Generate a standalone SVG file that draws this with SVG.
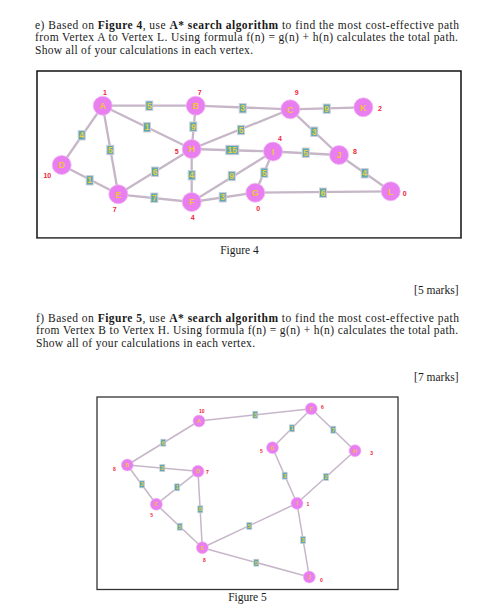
<svg xmlns="http://www.w3.org/2000/svg" width="501" height="609" viewBox="0 0 501 609">
<style>
.t{font-family:"Liberation Serif","Times New Roman",serif;font-size:11.5px;fill:#1a1a1a}
.b{font-weight:bold}
.e4{stroke:#c6b6c8;stroke-width:2.3;fill:none}
.e5{stroke:#c6b6c8;stroke-width:1.5;fill:none}
.n4{fill:#e87ef0;stroke:#f0b8f4;stroke-width:0.8}
.n5{fill:#e87ef0;stroke:#f0b8f4;stroke-width:0.6}
.nl4{font-family:"Liberation Sans",Arial,sans-serif;font-size:9px;font-weight:bold;fill:#f2c43a;text-anchor:middle}
.nl5{font-family:"Liberation Sans",Arial,sans-serif;font-size:5.5px;font-weight:bold;fill:#f2c43a;text-anchor:middle}
.h4{font-family:"Liberation Sans",Arial,sans-serif;font-size:7px;font-weight:bold;fill:#f0243a;text-anchor:middle}
.h5{font-family:"Liberation Sans",Arial,sans-serif;font-size:5px;font-weight:bold;fill:#f0243a;text-anchor:middle}
.lb4{fill:#5fa6ae;stroke:#cfcfdc;stroke-width:1}
.lb5{fill:#5fa6ae;stroke:#cfcfdc;stroke-width:0.7}
.lt4{font-family:"Liberation Sans",Arial,sans-serif;font-size:8.5px;font-weight:bold;fill:#e8d040;text-anchor:middle}
.lt5{font-family:"Liberation Sans",Arial,sans-serif;font-size:5.5px;font-weight:bold;fill:#e8d040;text-anchor:middle}
</style>
<rect width="501" height="609" fill="#ffffff"/>

<g id="question-e">
<text class="t" x="35" y="28.5" textLength="424">e) Based on <tspan class="b">Figure 4</tspan>, use <tspan class="b">A* search algorithm</tspan> to find the most cost-effective path</text>
<text class="t" x="35" y="41" textLength="423">from Vertex A to Vertex L. Using formula f(n) = g(n) + h(n) calculates the total path.</text>
<text class="t" x="35" y="53.5" textLength="218">Show all of your calculations in each vertex.</text>
</g>

<rect x="37" y="71" width="424" height="167" fill="none" stroke="#111" stroke-width="1.5"/>
<line x1="37" y1="238.5" x2="462" y2="238.5" stroke="#777" stroke-width="1"/>

<g id="fig4-connectors">
<line class="e4" x1="102.7" y1="105.7" x2="195.7" y2="105.7"/>
<line class="e4" x1="195.7" y1="105.7" x2="290.3" y2="109.3"/>
<line class="e4" x1="290.3" y1="109.3" x2="363.3" y2="107.3"/>
<line class="e4" x1="102.7" y1="105.7" x2="191.7" y2="149"/>
<line class="e4" x1="195.7" y1="105.7" x2="191.7" y2="149"/>
<line class="e4" x1="191.7" y1="149" x2="290.3" y2="109.3"/>
<line class="e4" x1="102.7" y1="105.7" x2="61.7" y2="165"/>
<line class="e4" x1="102.7" y1="105.7" x2="118.3" y2="194.3"/>
<line class="e4" x1="191.7" y1="149" x2="273" y2="151.5"/>
<line class="e4" x1="290.3" y1="109.3" x2="339" y2="155"/>
<line class="e4" x1="273" y1="151.5" x2="339" y2="155"/>
<line class="e4" x1="61.7" y1="165" x2="118.3" y2="194.3"/>
<line class="e4" x1="118.3" y1="194.3" x2="191.7" y2="149"/>
<line class="e4" x1="191.7" y1="149" x2="191.7" y2="202"/>
<line class="e4" x1="118.3" y1="194.3" x2="191.7" y2="202"/>
<line class="e4" x1="191.7" y1="202" x2="273" y2="151.5"/>
<line class="e4" x1="191.7" y1="202" x2="255.3" y2="192.7"/>
<line class="e4" x1="273" y1="151.5" x2="255.3" y2="192.7"/>
<line class="e4" x1="339" y1="155" x2="390.7" y2="191.3"/>
<line class="e4" x1="255.3" y1="192.7" x2="390.7" y2="191.3"/>
<g id="fig4-edge-labels">
<rect class="lb4" x="145.8" y="101" width="7" height="9.4"/><text class="lt4" x="149.3" y="108.7">5</text>
<rect class="lb4" x="239.2" y="103.6" width="7" height="9.4"/><text class="lt4" x="242.7" y="111.3">3</text>
<rect class="lb4" x="323.2" y="104" width="7" height="9.4"/><text class="lt4" x="326.7" y="111.7">9</text>
<rect class="lb4" x="143.5" y="122.6" width="7" height="9.4"/><text class="lt4" x="147" y="130.3">1</text>
<rect class="lb4" x="189.8" y="122" width="7" height="9.4"/><text class="lt4" x="193.3" y="129.7">9</text>
<rect class="lb4" x="237.5" y="125.3" width="7" height="9.4"/><text class="lt4" x="241" y="133">5</text>
<rect class="lb4" x="78.2" y="130.6" width="7" height="9.4"/><text class="lt4" x="81.7" y="138.3">4</text>
<rect class="lb4" x="106.8" y="145.3" width="7" height="9.4"/><text class="lt4" x="110.3" y="153">5</text>
<rect class="lb4" x="225.8" y="145.3" width="13" height="9.4"/><text class="lt4" x="232.3" y="153">15</text>
<rect class="lb4" x="310.8" y="127" width="7" height="9.4"/><text class="lt4" x="314.3" y="134.7">3</text>
<rect class="lb4" x="302.2" y="148" width="7" height="9.4"/><text class="lt4" x="305.7" y="155.7">5</text>
<rect class="lb4" x="86.2" y="175.6" width="7" height="9.4"/><text class="lt4" x="89.7" y="183.3">1</text>
<rect class="lb4" x="151.5" y="167" width="7" height="9.4"/><text class="lt4" x="155" y="174.7">6</text>
<rect class="lb4" x="188.2" y="170.6" width="7" height="9.4"/><text class="lt4" x="191.7" y="178.3">4</text>
<rect class="lb4" x="150.8" y="193" width="7" height="9.4"/><text class="lt4" x="154.3" y="200.7">7</text>
<rect class="lb4" x="228.2" y="171.3" width="7" height="9.4"/><text class="lt4" x="231.7" y="179">9</text>
<rect class="lb4" x="219.2" y="192.6" width="7" height="9.4"/><text class="lt4" x="222.7" y="200.3">3</text>
<rect class="lb4" x="260.8" y="168" width="7" height="9.4"/><text class="lt4" x="264.3" y="175.7">5</text>
<rect class="lb4" x="361.2" y="168.6" width="7" height="9.4"/><text class="lt4" x="364.7" y="176.3">4</text>
<rect class="lb4" x="319.5" y="188" width="7" height="9.4"/><text class="lt4" x="323" y="195.7">6</text>
</g>
</g>

<g id="fig4-A"><circle class="n4" cx="102.7" cy="105.7" r="9.5"/><text class="nl4" x="102.7" y="108.9">A</text><text class="h4" x="105" y="95.2">1</text></g>
<g id="fig4-B"><circle class="n4" cx="195.7" cy="105.7" r="9.5"/><text class="nl4" x="195.7" y="108.9">B</text><text class="h4" x="199.7" y="94.5">7</text></g>
<g id="fig4-C"><circle class="n4" cx="290.3" cy="109.3" r="9.5"/><text class="nl4" x="290.3" y="112.5">C</text><text class="h4" x="296.7" y="95.2">9</text></g>
<g id="fig4-K"><circle class="n4" cx="363.3" cy="107.3" r="9.5"/><text class="nl4" x="363.3" y="110.5">K</text><text class="h4" x="380" y="111.2">2</text></g>
<g id="fig4-H"><circle class="n4" cx="191.7" cy="149" r="9.5"/><text class="nl4" x="191.7" y="152.2">H</text><text class="h4" x="176.7" y="153.5">5</text></g>
<g id="fig4-I"><circle class="n4" cx="273" cy="151.5" r="9.5"/><text class="nl4" x="273" y="154.7">I</text><text class="h4" x="280" y="140.8">4</text></g>
<g id="fig4-J"><circle class="n4" cx="339" cy="155" r="9.5"/><text class="nl4" x="339" y="158.2">J</text><text class="h4" x="355" y="153.5">8</text></g>
<g id="fig4-D"><circle class="n4" cx="61.7" cy="165" r="9.5"/><text class="nl4" x="61.7" y="168.2">D</text><text class="h4" x="47.3" y="177.5">10</text></g>
<g id="fig4-E"><circle class="n4" cx="118.3" cy="194.3" r="9.5"/><text class="nl4" x="118.3" y="197.5">E</text><text class="h4" x="114.7" y="211.8">7</text></g>
<g id="fig4-F"><circle class="n4" cx="191.7" cy="202" r="9.5"/><text class="nl4" x="191.7" y="205.2">F</text><text class="h4" x="192.7" y="220.2">4</text></g>
<g id="fig4-G"><circle class="n4" cx="255.3" cy="192.7" r="9.5"/><text class="nl4" x="255.3" y="195.9">G</text><text class="h4" x="258.3" y="210.8">0</text></g>
<g id="fig4-L"><circle class="n4" cx="390.7" cy="191.3" r="9.5"/><text class="nl4" x="390.7" y="194.5">L</text><text class="h4" x="404.7" y="195.8">0</text></g>

<text class="t" x="239.5" y="254" text-anchor="middle">Figure 4</text>
<text class="t" x="458.5" y="294" text-anchor="end">[5 marks]</text>

<g id="question-f">
<text class="t" x="36" y="322" textLength="423">f) Based on <tspan class="b">Figure 5</tspan>, use <tspan class="b">A* search algorithm</tspan> to find the most cost-effective path</text>
<text class="t" x="36" y="334.3" textLength="422">from Vertex B to Vertex H. Using formula f(n) = g(n) + h(n) calculates the total path.</text>
<text class="t" x="36" y="346.6" textLength="219">Show all of your calculations in each vertex.</text>
</g>
<text class="t" x="458.5" y="381" text-anchor="end">[7 marks]</text>

<rect x="97" y="397" width="301" height="192.5" fill="none" stroke="#333" stroke-width="1.3"/>

<g id="fig5-connectors">
<line class="e5" x1="199" y1="421" x2="311.3" y2="408.7"/>
<line class="e5" x1="127.3" y1="465" x2="199" y2="421"/>
<line class="e5" x1="127.3" y1="465" x2="198" y2="471.3"/>
<line class="e5" x1="127.3" y1="465" x2="156.3" y2="504.3"/>
<line class="e5" x1="156.3" y1="504.3" x2="198" y2="471.3"/>
<line class="e5" x1="198" y1="471.3" x2="202.3" y2="547.7"/>
<line class="e5" x1="156.3" y1="504.3" x2="202.3" y2="547.7"/>
<line class="e5" x1="202.3" y1="547.7" x2="297" y2="503.3"/>
<line class="e5" x1="202.3" y1="547.7" x2="309.3" y2="577"/>
<line class="e5" x1="311.3" y1="408.7" x2="272.5" y2="447.7"/>
<line class="e5" x1="311.3" y1="408.7" x2="355" y2="450.7"/>
<line class="e5" x1="272.5" y1="447.7" x2="297" y2="503.3"/>
<line class="e5" x1="355" y1="450.7" x2="297" y2="503.3"/>
<line class="e5" x1="297" y1="503.3" x2="309.3" y2="577"/>
<g id="fig5-edge-labels">
<rect class="lb5" x="252.8" y="411.2" width="5" height="7"/><text class="lt5" x="255.3" y="416.6">3</text>
<rect class="lb5" x="160.8" y="439.2" width="5" height="7"/><text class="lt5" x="163.3" y="444.6">6</text>
<rect class="lb5" x="159.8" y="464.5" width="5" height="7"/><text class="lt5" x="162.3" y="469.9">2</text>
<rect class="lb5" x="139.5" y="480.8" width="5" height="7"/><text class="lt5" x="142" y="486.2">3</text>
<rect class="lb5" x="174.5" y="483.8" width="5" height="7"/><text class="lt5" x="177" y="489.2">1</text>
<rect class="lb5" x="197.8" y="505.8" width="5" height="7"/><text class="lt5" x="200.3" y="511.2">8</text>
<rect class="lb5" x="177.2" y="523.2" width="5" height="7"/><text class="lt5" x="179.7" y="528.6">5</text>
<rect class="lb5" x="246.8" y="522.5" width="5" height="7"/><text class="lt5" x="249.3" y="527.9">5</text>
<rect class="lb5" x="253.8" y="559.2" width="5" height="7"/><text class="lt5" x="256.3" y="564.6">5</text>
<rect class="lb5" x="289.5" y="424.8" width="5" height="7"/><text class="lt5" x="292" y="430.2">1</text>
<rect class="lb5" x="330.8" y="426.2" width="5" height="7"/><text class="lt5" x="333.3" y="431.6">7</text>
<rect class="lb5" x="282.2" y="472.2" width="5" height="7"/><text class="lt5" x="284.7" y="477.6">3</text>
<rect class="lb5" x="323.5" y="473.5" width="5" height="7"/><text class="lt5" x="326" y="478.9">2</text>
<rect class="lb5" x="300.5" y="536.5" width="5" height="7"/><text class="lt5" x="303" y="541.9">3</text>
</g>
</g>

<g id="fig5-A"><circle class="n5" cx="199" cy="421" r="6"/><text class="nl5" x="199" y="423">A</text><text class="h5" x="201.7" y="412.8">10</text></g>
<g id="fig5-B"><circle class="n5" cx="127.3" cy="465" r="6"/><text class="nl5" x="127.3" y="467">B</text><text class="h5" x="114.3" y="470.8">8</text></g>
<g id="fig5-C"><circle class="n5" cx="156.3" cy="504.3" r="6"/><text class="nl5" x="156.3" y="506.3">C</text><text class="h5" x="151.7" y="516.8">5</text></g>
<g id="fig5-D"><circle class="n5" cx="198" cy="471.3" r="6"/><text class="nl5" x="198" y="473.3">D</text><text class="h5" x="207.3" y="473.8">7</text></g>
<g id="fig5-E"><circle class="n5" cx="202.3" cy="547.7" r="6"/><text class="nl5" x="202.3" y="549.7">E</text><text class="h5" x="204.3" y="561.8">8</text></g>
<g id="fig5-F"><circle class="n5" cx="311.3" cy="408.7" r="6"/><text class="nl5" x="311.3" y="410.7">F</text><text class="h5" x="322.3" y="408.8">6</text></g>
<g id="fig5-G"><circle class="n5" cx="272.5" cy="447.7" r="6"/><text class="nl5" x="272.5" y="449.7">G</text><text class="h5" x="261.3" y="452.8">5</text></g>
<g id="fig5-H"><circle class="n5" cx="355" cy="450.7" r="6"/><text class="nl5" x="355" y="452.7">H</text><text class="h5" x="371.7" y="455.1">3</text></g>
<g id="fig5-I"><circle class="n5" cx="297" cy="503.3" r="6"/><text class="nl5" x="297" y="505.3">I</text><text class="h5" x="308" y="505.8">1</text></g>
<g id="fig5-J"><circle class="n5" cx="309.3" cy="577" r="6"/><text class="nl5" x="309.3" y="579">J</text><text class="h5" x="321.3" y="581.8">0</text></g>

<text class="t" x="247.5" y="600.5" text-anchor="middle">Figure 5</text>
</svg>
